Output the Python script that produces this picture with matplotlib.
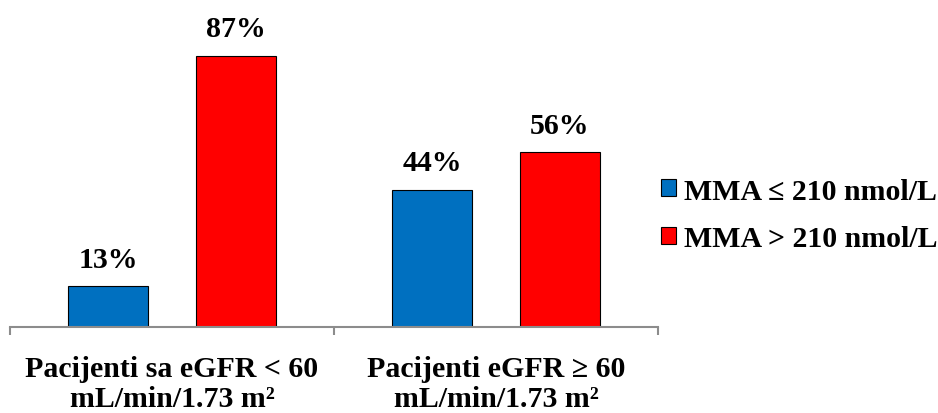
import matplotlib
matplotlib.use('Agg')
import matplotlib.pyplot as plt
import numpy as np

# ---------------  Data  ------------
categories = ['Pacijenti sa eGFR < 60\nmL/min/1.73 m²', 'Pacijenti eGFR ≥ 60\nmL/min/1.73 m²']
series_names = ['MMA ≤ 210 nmol/L', 'MMA > 210 nmol/L']
mma_low = [13, 44]
mma_high = [87, 56]
colors = ['#0070C0', '#FF0000']

plt.rcParams['font.family'] = ['Liberation Serif', 'DejaVu Serif']
plt.rcParams['font.weight'] = 'bold'

# ---------------  Plot  ------------
fig = plt.figure(figsize=(9.38, 4.14), dpi=100)
ax = fig.add_axes([10 / 938, 86 / 414, 648 / 938, 312 / 414])

x = np.arange(len(categories))
width = 0.244
offset = 0.1975

for vals, off, col, name in zip([mma_low, mma_high], [-offset, offset], colors, series_names):
    bars = ax.bar(x + off, vals, width, color=col, edgecolor='black', linewidth=0.8, label=name)
    for b, v in zip(bars, vals):
        ax.annotate(f'{v}%', (b.get_x() + b.get_width() / 2, v), xytext=(0, 14),
                    textcoords='offset points', ha='center', va='baseline',
                    fontsize=21.5, fontweight='bold')

ax.set_xlim(-0.5, 1.5)
ax.set_ylim(0, 100)
ax.set_yticks([])
for s in ['left', 'right', 'top']:
    ax.spines[s].set_visible(False)
ax.spines['bottom'].set_color('#8c8c8c')
ax.spines['bottom'].set_linewidth(1.5)

ax.set_xticks(x)
ax.set_xticklabels(categories, fontsize=21.5, fontweight='bold', linespacing=1.15)
ax.tick_params(axis='x', which='major', length=0, pad=20)
ax.set_xticks([-0.5, 0.5, 1.5], minor=True)
ax.tick_params(axis='x', which='minor', length=6, width=1.5, color='#8c8c8c', direction='out')

ax.legend(loc='center left', bbox_to_anchor=(1.004, 0.36), frameon=False,
          prop={'size': 21.5, 'weight': 'bold'}, handlelength=0.5, handleheight=0.5,
          handletextpad=0.3, labelspacing=0.68, borderaxespad=0, borderpad=0)

fig.savefig('out.png', dpi=100)
